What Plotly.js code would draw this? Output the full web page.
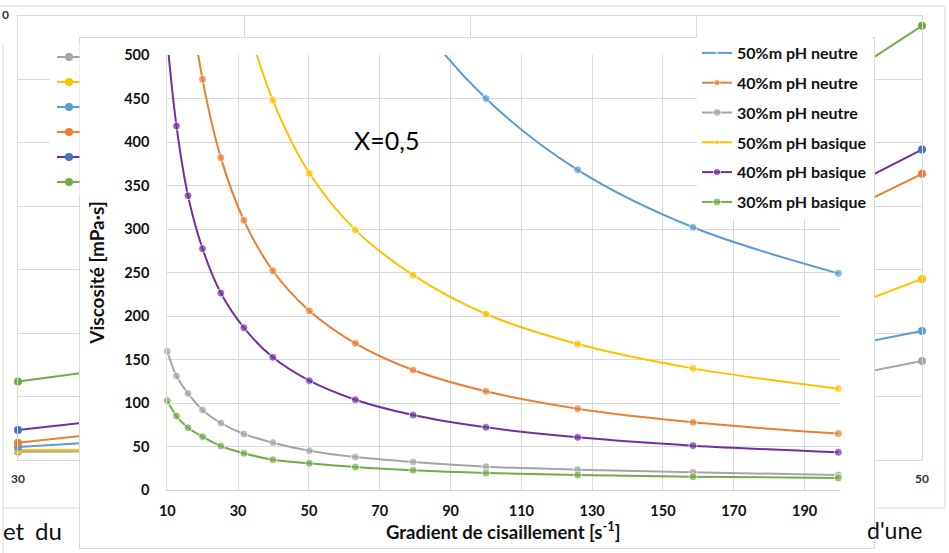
<!DOCTYPE html>
<html>
<head>
<meta charset="utf-8">
<script src="https://cdn.plot.ly/plotly-3.0.1.min.js"></script>
<style>html,body{margin:0;padding:0;background:#fff;}#chart{width:949px;height:553px;}</style>
</head>
<body>
<div id="chart"></div>
<script>
// ---------- Front chart data (X=0,5) ----------
const shearRate = [10, 12.59, 15.85, 19.95, 25.12, 31.62, 39.81, 50.12, 63.1, 79.43, 100, 125.89, 158.49, 199.53];
const neutre50 = [3230, 2650, 2180, 1790, 1470, 1206, 990, 813, 668, 548, 450, 368, 302, 249];
const neutre40 = [887, 718, 582, 472, 382, 310, 252, 206, 168.6, 137.9, 113.4, 93.5, 77.8, 64.8];
const neutre30 = [159.4, 131, 111, 92, 77, 64.4, 54.4, 45.2, 37.9, 32.2, 26.8, 23.3, 20.3, 17.2];
const basique50 = [1586, 1285, 1041, 843, 683, 553, 448, 364, 299, 247, 202.3, 167.8, 139.8, 116.5];
const basique40 = [516, 418.4, 338.3, 277.4, 226.4, 186.6, 152.5, 125.7, 103.8, 86.2, 72, 60.5, 51, 43.3];
const basique30 = [102.6, 85, 71.6, 61.3, 50.6, 42.2, 34.8, 30.7, 26.4, 22.6, 19.5, 17.2, 15.3, 13.8];
const seriesNames = ['50%m pH neutre', '40%m pH neutre', '30%m pH neutre', '50%m pH basique', '40%m pH basique', '30%m pH basique'];
const xTickVals = [10, 30, 50, 70, 90, 110, 130, 150, 170, 190];
const yTickVals = [0, 50, 100, 150, 200, 250, 300, 350, 400, 450, 500];

// ---------- Background chart data (partly hidden) ----------
const bgX = [30, 40, 50];
const bgNeutre30 = [6.5, 8, 78.1];
const bgBasique50 = [7.9, 8, 142.7];
const bgNeutre50 = [10.3, 31.5, 101.7];
const bgNeutre40 = [13.6, 52, 225.6];
const bgBasique40 = [23.7, 63.1, 244.7];
const bgBasique30 = [61.8, 109.6, 342.3];
const bgTickVals = [30, 35, 40, 45, 50];

const W = 949, H = 553;
const fx = p => p / W;
const fy = p => 1 - p / H;
const YMAX = 500;
const bold = v => '<b>' + v + '</b>';

const C = {blue:'#5B9BD5', orange:'#ED7D31', gray:'#A5A5A5', yellow:'#FFC000', purple:'#7030A0', green:'#70AD47', mblue:'#4472C4'};
const grid = '#D9D9D9';
const txt = '#111111';

const data = [];
const bgSeries = [
  [bgNeutre30, C.gray, C.gray],
  [bgBasique50, C.yellow, C.yellow],
  [bgNeutre50, C.blue, C.blue],
  [bgNeutre40, C.orange, C.orange],
  [bgBasique40, C.purple, C.mblue],
  [bgBasique30, C.green, C.green]
];
bgSeries.forEach(s => data.push({
  type:'scatter', mode:'lines+markers', x:bgX, y:s[0], xaxis:'x', yaxis:'y',
  line:{color:s[1], width:2}, marker:{color:s[2], size:8},
  showlegend:false, cliponaxis:false, hoverinfo:'skip'
}));
data.push({type:'scatter', mode:'markers', x:[], y:[], xaxis:'x2', yaxis:'y2', showlegend:false, hoverinfo:'skip'});

const frontSeries = [
  [neutre50, C.blue], [neutre40, C.orange], [neutre30, C.gray],
  [basique50, C.yellow], [basique40, C.purple], [basique30, C.green]
];
frontSeries.forEach((s, i) => data.push({
  type:'scatter', mode:'lines+markers', name:seriesNames[i], legendgroup:'g'+i,
  x:shearRate, y:s[0], xaxis:'x3', yaxis:'y3',
  line:{color:s[1], width:2, shape:'spline', smoothing:1},
  marker:{color:s[1], size:s[0].map(v => v > YMAX ? 0 : 8)},
  cliponaxis:false
}));

const legendItemsY = [57, 82, 107, 132, 157, 182];
const legendCols = [[C.gray,C.gray],[C.yellow,C.yellow],[C.blue,C.blue],[C.orange,C.orange],[C.purple,C.mblue],[C.green,C.green]];
const shapes = [
  {type:'line', xref:'paper', yref:'paper', x0:fx(0), x1:fx(945), y0:fy(6), y1:fy(6), line:{color:grid, width:1}, layer:'below'},
  {type:'line', xref:'paper', yref:'paper', x0:fx(945), x1:fx(945), y0:fy(6), y1:fy(507), line:{color:grid, width:1}, layer:'below'},
  {type:'line', xref:'paper', yref:'paper', x0:fx(3), x1:fx(945), y0:fy(508), y1:fy(508), line:{color:grid, width:1}, layer:'below'},
  {type:'line', xref:'paper', yref:'paper', x0:fx(3), x1:fx(3), y0:fy(45), y1:fy(553), line:{color:grid, width:1}, layer:'below'},
  {type:'rect', xref:'paper', yref:'paper', x0:fx(50), x1:fx(79.5), y0:fy(45), y1:fy(195), fillcolor:'#ffffff', line:{width:0}, layer:'above'}
];
legendItemsY.forEach((py, i) => {
  shapes.push({type:'line', xref:'paper', yref:'paper', x0:fx(57), x1:fx(79.5), y0:fy(py), y1:fy(py), line:{color:legendCols[i][0], width:2}, layer:'above'});
  shapes.push({type:'circle', xref:'paper', yref:'paper', x0:fx(65), x1:fx(73), y0:fy(py-4), y1:fy(py+4), fillcolor:legendCols[i][1], line:{width:0}, layer:'above'});
});

const layout = {
  width:W, height:H, margin:{l:0, r:0, t:0, b:0},
  paper_bgcolor:'#ffffff', plot_bgcolor:'#ffffff',
  font:{family:'Lato, sans-serif', color:txt},
  showlegend:true,
  xaxis:{domain:[fx(18), fx(922)], range:[30,50], tickvals:bgTickVals, ticktext:bgTickVals.map(v => bold(v)),
    showgrid:true, gridcolor:grid, showline:true, mirror:true, linecolor:grid, zeroline:false, ticks:'',
    tickfont:{family:'Lato', size:12, color:'#333333'}, ticklabelstandoff:8, anchor:'y', fixedrange:true},
  yaxis:{domain:[fy(460), fy(16)], range:[0,350], dtick:50, showgrid:true, gridcolor:grid, showline:true, mirror:true,
    linecolor:grid, zeroline:false, ticks:'', showticklabels:false, anchor:'x', fixedrange:true},
  xaxis2:{domain:[fx(80), fx(874)], range:[0,1], showgrid:false, zeroline:false, showticklabels:false, ticks:'',
    showline:true, mirror:true, linecolor:grid, linewidth:1, anchor:'y2', fixedrange:true},
  yaxis2:{domain:[fy(548), fy(38)], range:[0,1], showgrid:false, zeroline:false, showticklabels:false, ticks:'',
    showline:true, mirror:true, linecolor:grid, linewidth:1, anchor:'x2', fixedrange:true},
  xaxis3:{domain:[fx(167.3), fx(840)], range:[10,200], tickvals:xTickVals, ticktext:xTickVals.map(v => bold(v)),
    showgrid:true, gridcolor:grid, showline:true, linecolor:'#D0D0D0', zeroline:false, ticks:'', anchor:'y3',
    tickfont:{family:'Lato', size:14.5, color:txt}, ticklabelstandoff:8, fixedrange:true},
  yaxis3:{domain:[fy(490), fy(55)], range:[0,500], tickvals:yTickVals, ticktext:yTickVals.map(v => bold(v)),
    showgrid:true, gridcolor:grid, showline:true, linecolor:grid, zeroline:false, ticks:'', anchor:'x3',
    tickfont:{family:'Lato', size:14.5, color:txt}, ticklabelstandoff:14,
    title:{text:bold('Viscosité [mPa·s]'), font:{family:'Lato', size:19, color:txt}, standoff:14},
    fixedrange:true},
  legend:{x:fx(697), y:fy(36), xanchor:'left', yanchor:'top', bgcolor:'#ffffff', borderwidth:0,
    font:{family:'Lato', size:16, color:txt, weight:'bold'}, traceorder:'grouped', tracegroupgap:6},
  shapes:shapes,
  annotations:[
    {xref:'paper', yref:'paper', x:fx(503.5), y:fy(530), xanchor:'center', yanchor:'middle',
      text:bold('Gradient de cisaillement [s<sup>-1</sup>]'), showarrow:false, font:{family:'Lato', size:18.5, color:txt}},
    {xref:'x3', yref:'y3', x:72, y:402, text:'X=0,5', showarrow:false, font:{family:'Lato', size:25, color:'#000'}},
    {xref:'paper', yref:'paper', x:fx(0), y:fy(15), xanchor:'left', yanchor:'middle', text:bold('0'), showarrow:false, font:{family:'Lato', size:12, color:'#333333'}},
    {xref:'paper', yref:'paper', x:fx(1), y:fy(530), xanchor:'left', yanchor:'middle', text:'et', showarrow:false, font:{family:'Lato', size:24, color:txt}},
    {xref:'paper', yref:'paper', x:fx(33), y:fy(530), xanchor:'left', yanchor:'middle', text:'du', showarrow:false, font:{family:'Lato', size:24, color:txt}},
    {xref:'paper', yref:'paper', x:fx(865), y:fy(530), xanchor:'left', yanchor:'middle', text:"d'une", showarrow:false, font:{family:'Lato', size:23, color:txt}}
  ]
};

Plotly.newPlot('chart', data, layout, {staticPlot:true, displayModeBar:false});
</script>
</body>
</html>
